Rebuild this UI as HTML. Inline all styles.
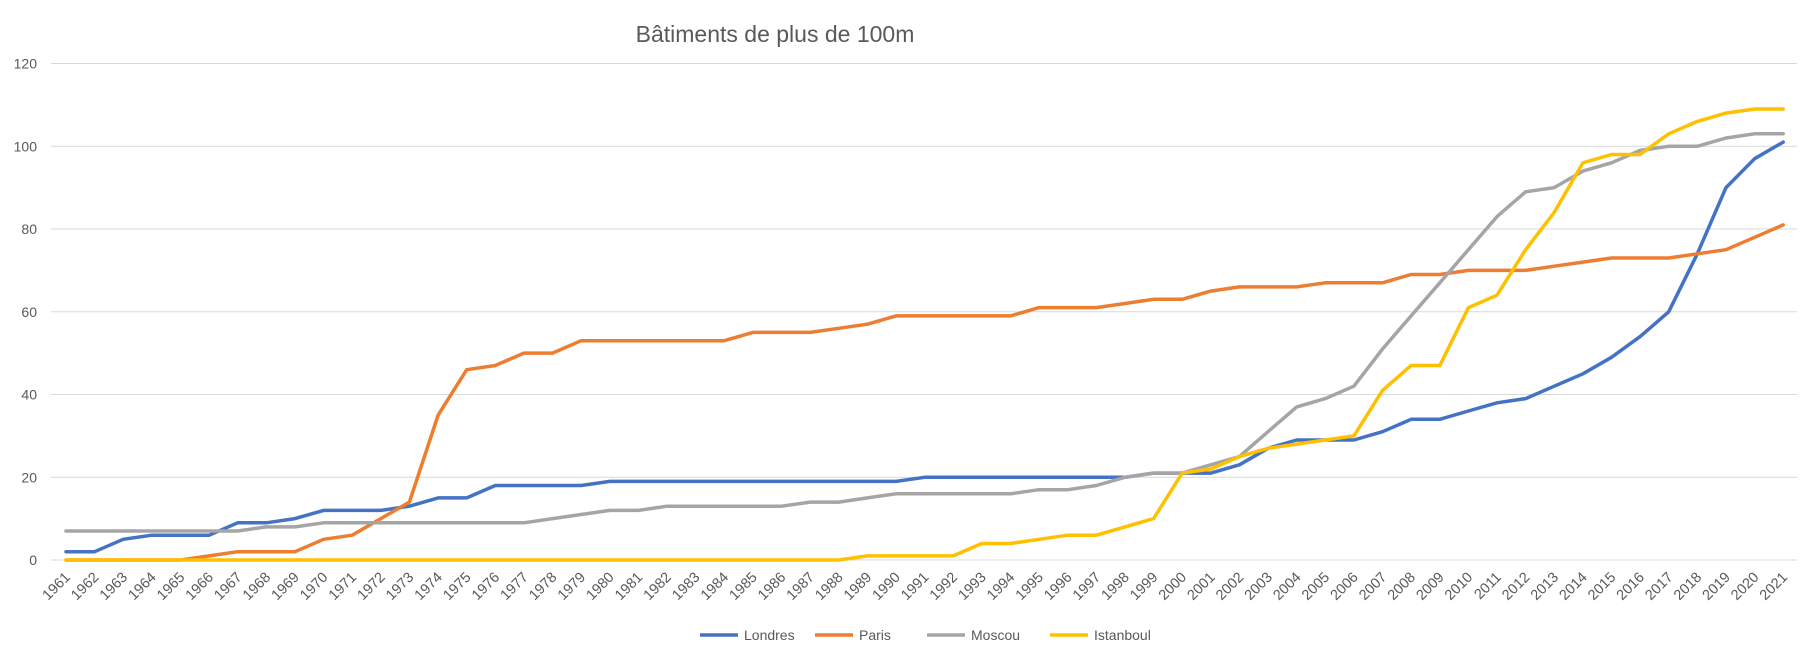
<!DOCTYPE html>
<html><head><meta charset="utf-8"><style>
html,body{margin:0;padding:0;background:#fff;}
svg{display:block;font-family:"Liberation Sans",sans-serif;}
</style></head><body>
<svg id="c" width="1810" height="662" xmlns="http://www.w3.org/2000/svg">
<text x="775" y="42" text-anchor="middle" font-size="23" fill="#595959">Bâtiments de plus de 100m</text>
</svg>
<script>
var s=document.getElementById('c'),NS='http://www.w3.org/2000/svg';
function el(t,a,txt){var e=document.createElementNS(NS,t);for(var k in a)e.setAttribute(k,a[k]);if(txt!=null)e.textContent=txt;s.appendChild(e);return e;}
var y0=560,u=(560-63.5)/120,x0=66,dx=28.62;
function Y(v){return y0-v*u;}function X(i){return x0+i*dx;}
for(var v=0;v<=120;v+=20){el('line',{x1:51,x2:1797,y1:Y(v),y2:Y(v),stroke:'#d9d9d9','stroke-width':1});
el('text',{x:37,y:Y(v)+5,'text-anchor':'end','font-size':14,fill:'#595959'},v);}
for(var i=0;i<61;i++){var x=X(i)+5,y=578;el('text',{x:x,y:y,'text-anchor':'end','font-size':14.5,fill:'#595959',transform:'rotate(-45 '+x+' '+y+')'},1961+i);}
var L=[2,2,5,6,6,6,9,9,10,12,12,12,13,15,15,18,18,18,18,19,19,19,19,19,19,19,19,19,19,19,20,20,20,20,20,20,20,20,21,21,21,23,27,29,29,29,31,34,34,36,38,39,42,45,49,54,60,74,90,97,101];
var P=[0,0,0,0,0,1,2,2,2,5,6,10,14,35,46,47,50,50,53,53,53,53,53,53,55,55,55,56,57,59,59,59,59,59,61,61,61,62,63,63,65,66,66,66,67,67,67,69,69,70,70,70,71,72,73,73,73,74,75,78,81];
var M=[7,7,7,7,7,7,7,8,8,9,9,9,9,9,9,9,9,10,11,12,12,13,13,13,13,13,14,14,15,16,16,16,16,16,17,17,18,20,21,21,23,25,31,37,39,42,51,59,67,75,83,89,90,94,96,99,100,100,102,103,103];
var I=[];for(var i=0;i<28;i++)I.push(0);I=I.concat([1,1,1,1,4,4,5,6,6,8,10,21,22,25,27,28,29,30,41,47,47,61,64,75,84,96,98,98,103,106,108,109,109]);
[[L,'#4472C4'],[P,'#ED7D31'],[M,'#A5A5A5'],[I,'#FFC000']].forEach(function(d){
var p=d[0].map(function(v,i){return X(i).toFixed(1)+','+Y(v).toFixed(1);}).join(' ');
el('polyline',{points:p,fill:'none',stroke:d[1],'stroke-width':3.5,'stroke-linejoin':'round','stroke-linecap':'round'});});
var lg=[['Londres','#4472C4',700],['Paris','#ED7D31',815],['Moscou','#A5A5A5',927],['Istanboul','#FFC000',1050]];
lg.forEach(function(g){el('line',{x1:g[2],x2:g[2]+38,y1:635,y2:635,stroke:g[1],'stroke-width':3.5});
el('text',{x:g[2]+44,y:640,'font-size':14,fill:'#595959'},g[0]);});
</script>
</body></html>
